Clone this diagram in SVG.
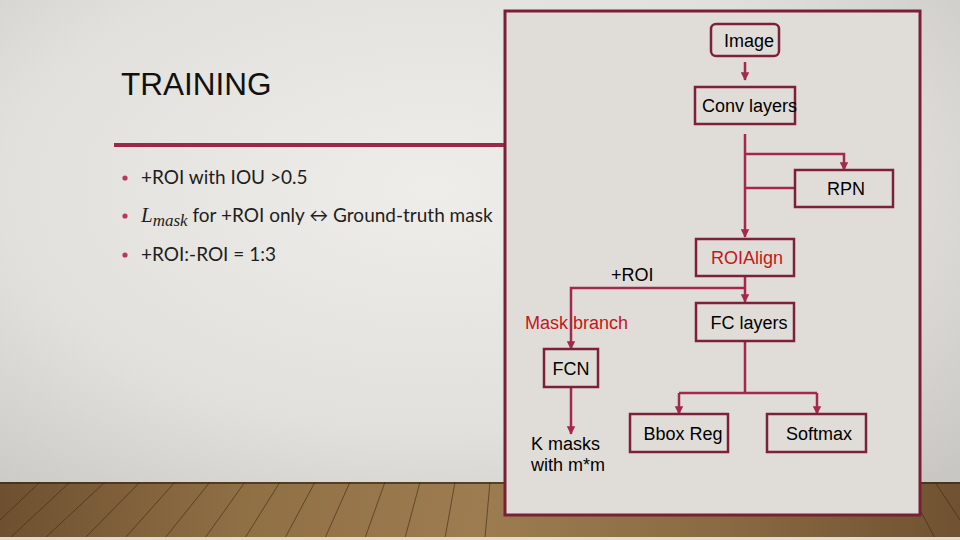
<svg xmlns="http://www.w3.org/2000/svg" width="960" height="540" viewBox="0 0 960 540">
  <defs>
    <radialGradient id="bg" cx="0.45" cy="0.35" r="0.75">
      <stop offset="0" stop-color="#eeede9"/>
      <stop offset="0.6" stop-color="#e2e0dc"/>
      <stop offset="1" stop-color="#c9c7c3"/>
    </radialGradient>
    <linearGradient id="wood" x1="0" y1="0" x2="1" y2="0">
      <stop offset="0" stop-color="#6e5030"/>
      <stop offset="0.25" stop-color="#8f6f44"/>
      <stop offset="0.5" stop-color="#9c7c50"/>
      <stop offset="0.75" stop-color="#8a6a42"/>
      <stop offset="1" stop-color="#705232"/>
    </linearGradient>
    <marker id="arr" viewBox="0 0 10 10" refX="9" refY="5" markerWidth="3.4" markerHeight="3.4" orient="auto">
      <path d="M0,0 L10,5 L0,10 Z" fill="#a3284d"/>
    </marker>
  </defs>
  <style>
    .box { fill: none; stroke: #7c2238; stroke-width: 2.5; }
    .conn { fill: none; stroke: #a3284d; stroke-width: 2.5; }
    .lbl { font-family: "Liberation Sans", Arial, sans-serif; font-size: 18px; fill: #000; }
    .red { fill: #c4161c; }
    .bul { font-family: Lato, "Open Sans", sans-serif; font-size: 19px; fill: #1e1e1e; }
    .dot { fill: #b8385a; }
  </style>

  <!-- background -->
  <rect x="0" y="0" width="960" height="540" fill="url(#bg)"/>
  <rect x="0" y="482" width="960" height="56" fill="url(#wood)"/>
  <g stroke="#3e2a14" stroke-width="1" opacity="0.6">
    <line x1="0" y1="520" x2="40" y2="482"/>
    <line x1="10" y1="538" x2="70" y2="482"/>
    <line x1="45" y1="538" x2="105" y2="482"/>
    <line x1="85" y1="538" x2="140" y2="482"/>
    <line x1="125" y1="538" x2="175" y2="482"/>
    <line x1="165" y1="538" x2="210" y2="482"/>
    <line x1="205" y1="538" x2="245" y2="482"/>
    <line x1="245" y1="538" x2="280" y2="482"/>
    <line x1="285" y1="538" x2="315" y2="482"/>
    <line x1="325" y1="538" x2="350" y2="482"/>
    <line x1="365" y1="538" x2="385" y2="482"/>
    <line x1="405" y1="538" x2="420" y2="482"/>
    <line x1="445" y1="538" x2="455" y2="482"/>
    <line x1="485" y1="538" x2="490" y2="482"/>
    <line x1="935" y1="538" x2="905" y2="482"/>
    <line x1="960" y1="520" x2="935" y2="482"/>
  </g>
  <rect x="0" y="482" width="960" height="2" fill="#3a2814" opacity="0.7"/>
  <rect x="0" y="537" width="960" height="3" fill="#e2ddd2"/>

  <!-- left text -->
  <text x="121" y="95" font-family="'Liberation Sans', Arial, sans-serif" font-size="31.5" fill="#111">TRAINING</text>
  <line x1="114" y1="145" x2="505" y2="145" stroke="#9c2848" stroke-width="4"/>
  <circle class="dot" cx="125" cy="178" r="2.6"/>
  <text class="bul" x="141" y="184">+ROI with IOU &gt;0.5</text>
  <circle class="dot" cx="125" cy="216" r="2.6"/>
  <text class="bul" x="141" y="222"><tspan font-family="'Liberation Serif', serif" font-style="italic" font-size="21">L</tspan><tspan font-family="'Liberation Serif', serif" font-style="italic" font-size="17" dy="4">mask</tspan><tspan dy="-4"> for +ROI only ↔ Ground-truth mask</tspan></text>
  <circle class="dot" cx="125" cy="255" r="2.6"/>
  <text class="bul" x="141" y="261">+ROI:-ROI = 1:3</text>

  <!-- panel -->
  <rect x="505" y="11" width="415" height="504" fill="#e0ddd8" stroke="#7a2036" stroke-width="3"/>

  <!-- connectors -->
  <g id="connectors">
    <path class="conn" d="M745,62 V80" marker-end="url(#arr)"/>
    <path class="conn" d="M745,134 V237" marker-end="url(#arr)"/>
    <path class="conn" d="M745,154 H844 V170" marker-end="url(#arr)"/>
    <path class="conn" d="M745,188 H795" stroke-width="1.2"/>
    <path class="conn" d="M745,276 V302" marker-end="url(#arr)"/>
    <path class="conn" d="M745,288 H571 V349" marker-end="url(#arr)"/>
    <path class="conn" d="M571,387 V434" marker-end="url(#arr)"/>
    <path class="conn" d="M745,341 V393"/>
    <path class="conn" d="M679,393 H817"/>
    <path class="conn" d="M679,393 V414" marker-end="url(#arr)"/>
    <path class="conn" d="M817,393 V414" marker-end="url(#arr)"/>
  </g>

  <!-- nodes -->
  <g id="image">
    <rect class="box" x="711" y="24" width="68" height="32" rx="5"/>
    <text class="lbl" x="749" y="47" text-anchor="middle">Image</text>
  </g>
  <g id="conv">
    <rect class="box" x="695" y="87" width="100" height="37"/>
    <text class="lbl" x="702" y="112">Conv layers</text>
  </g>
  <g id="rpn">
    <rect class="box" x="795" y="170" width="98" height="37"/>
    <text class="lbl" x="846" y="195" text-anchor="middle">RPN</text>
  </g>
  <g id="roialign">
    <rect class="box" x="696" y="239" width="98" height="37"/>
    <text class="lbl red" x="747" y="264" text-anchor="middle">ROIAlign</text>
  </g>
  <g id="roi-label">
    <text class="lbl" x="611" y="281">+ROI</text>
  </g>
  <g id="mask-branch">
    <text class="lbl red" x="525" y="329">Mask branch</text>
  </g>
  <g id="fc">
    <rect class="box" x="696" y="303" width="98" height="38"/>
    <text class="lbl" x="749" y="329" text-anchor="middle">FC layers</text>
  </g>
  <g id="fcn">
    <rect class="box" x="544" y="349" width="54" height="38"/>
    <text class="lbl" x="571" y="375" text-anchor="middle">FCN</text>
  </g>
  <g id="kmasks">
    <text class="lbl" x="531" y="450">K masks</text>
    <text class="lbl" x="531" y="471">with m*m</text>
  </g>
  <g id="bbox">
    <rect class="box" x="630" y="414" width="98" height="38"/>
    <text class="lbl" x="683" y="440" text-anchor="middle">Bbox Reg</text>
  </g>
  <g id="softmax">
    <rect class="box" x="767" y="414" width="99" height="38"/>
    <text class="lbl" x="819" y="440" text-anchor="middle">Softmax</text>
  </g>
</svg>
